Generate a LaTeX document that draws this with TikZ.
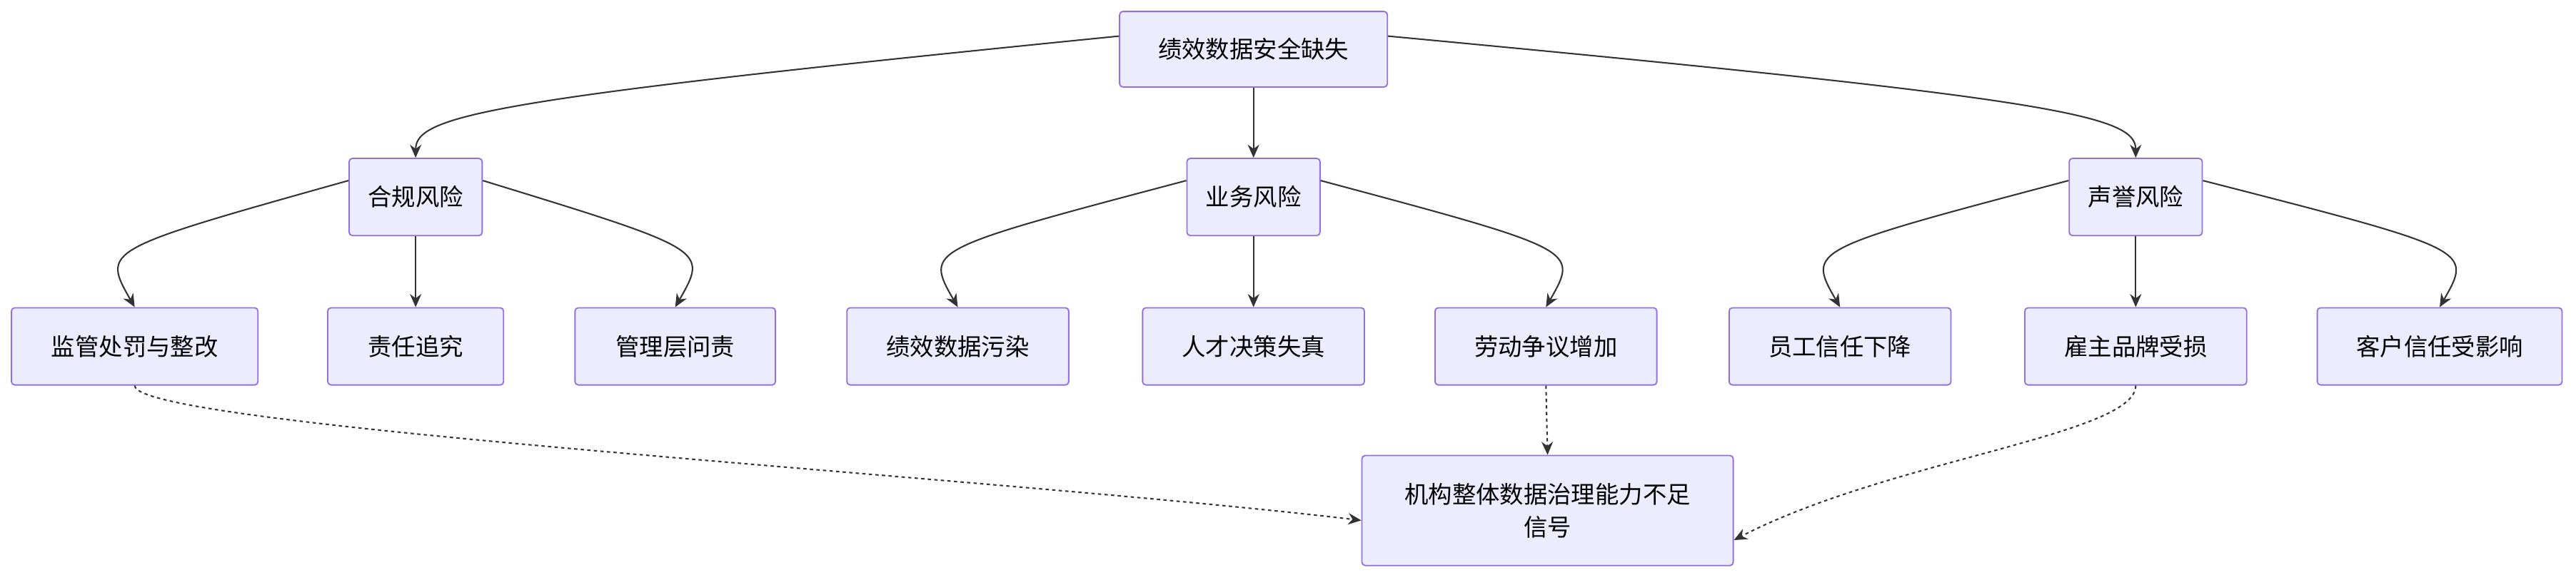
\documentclass[tikz,border=0pt]{standalone}
\usepackage{fontspec}
\setmainfont{Noto Sans CJK SC}
\usetikzlibrary{arrows.meta}
\begin{document}
\begin{tikzpicture}[x=1pt,y=-1pt,
 box/.style={draw=violet!60!purple!55!blue!60,fill=blue!8,line width=0.8pt,rounded corners=2pt,minimum height=47pt,align=center,font=\fontsize{14.5}{20}\selectfont,inner sep=0pt},
 arr/.style={draw=black!80,line width=0.9pt,-{Stealth[length=8pt,width=7pt]}},
 dot/.style={arr,dash pattern=on 2pt off 2pt}]
\definecolor{bd}{HTML}{9370DB}\definecolor{bf}{HTML}{ECECFF}
\tikzset{box/.append style={draw=bd,fill=bf}}
\useasboundingbox (0,0) rectangle (1568,353);
\node[box,minimum width=163pt,minimum height=46pt] (T) at (763,30) {绩效数据安全缺失};
\node[box,minimum width=81pt] (A) at (253,120) {合规风险};
\node[box,minimum width=81pt] (B) at (763,120) {业务风险};
\node[box,minimum width=81pt] (C) at (1300,120) {声誉风险};
\node[box,minimum width=150pt] (A1) at (82,211) {监管处罚与整改};
\node[box,minimum width=107pt] (A2) at (253,211) {责任追究};
\node[box,minimum width=122pt] (A3) at (411,211) {管理层问责};
\node[box,minimum width=135pt] (B1) at (583,211) {绩效数据污染};
\node[box,minimum width=135pt] (B2) at (763,211) {人才决策失真};
\node[box,minimum width=135pt] (B3) at (941,211) {劳动争议增加};
\node[box,minimum width=135pt] (C1) at (1120,211) {员工信任下降};
\node[box,minimum width=135pt] (C2) at (1300,211) {雇主品牌受损};
\node[box,minimum width=149pt] (C3) at (1485,211) {客户信任受影响};
\node[box,minimum width=226pt,minimum height=67pt] (Z) at (942,311) {机构整体数据治理能力不足\\信号};
\draw[arr] ([yshift=8pt]T.west) .. controls (300,60) and (253,70) .. (A.north);
\draw[arr] (T) -- (B);
\draw[arr] ([yshift=8pt]T.east) .. controls (1250,60) and (1300,70) .. (C.north);
\foreach \p/\c in {A/A1,B/B1,C/C1}{
 \draw[arr] ([yshift=10pt]\p.west) .. controls ([xshift=-20pt,yshift=35pt]\c.north) .. (\c.north);}
\foreach \p/\c in {A/A3,B/B3,C/C3}{
 \draw[arr] ([yshift=10pt]\p.east) .. controls ([xshift=20pt,yshift=35pt]\c.north) .. (\c.north);}
\draw[arr] (A) -- (A2); \draw[arr] (B) -- (B2); \draw[arr] (C) -- (C2);
\draw[dot] (A1.south) .. controls (82,260) and (600,290) .. ([yshift=-6pt]Z.west);
\draw[dot] (B3.south) -- (Z.north);
\draw[dot] (C2.south) .. controls (1300,265) and (1150,280) .. ([yshift=-18pt]Z.east);
\end{tikzpicture}
\end{document}
